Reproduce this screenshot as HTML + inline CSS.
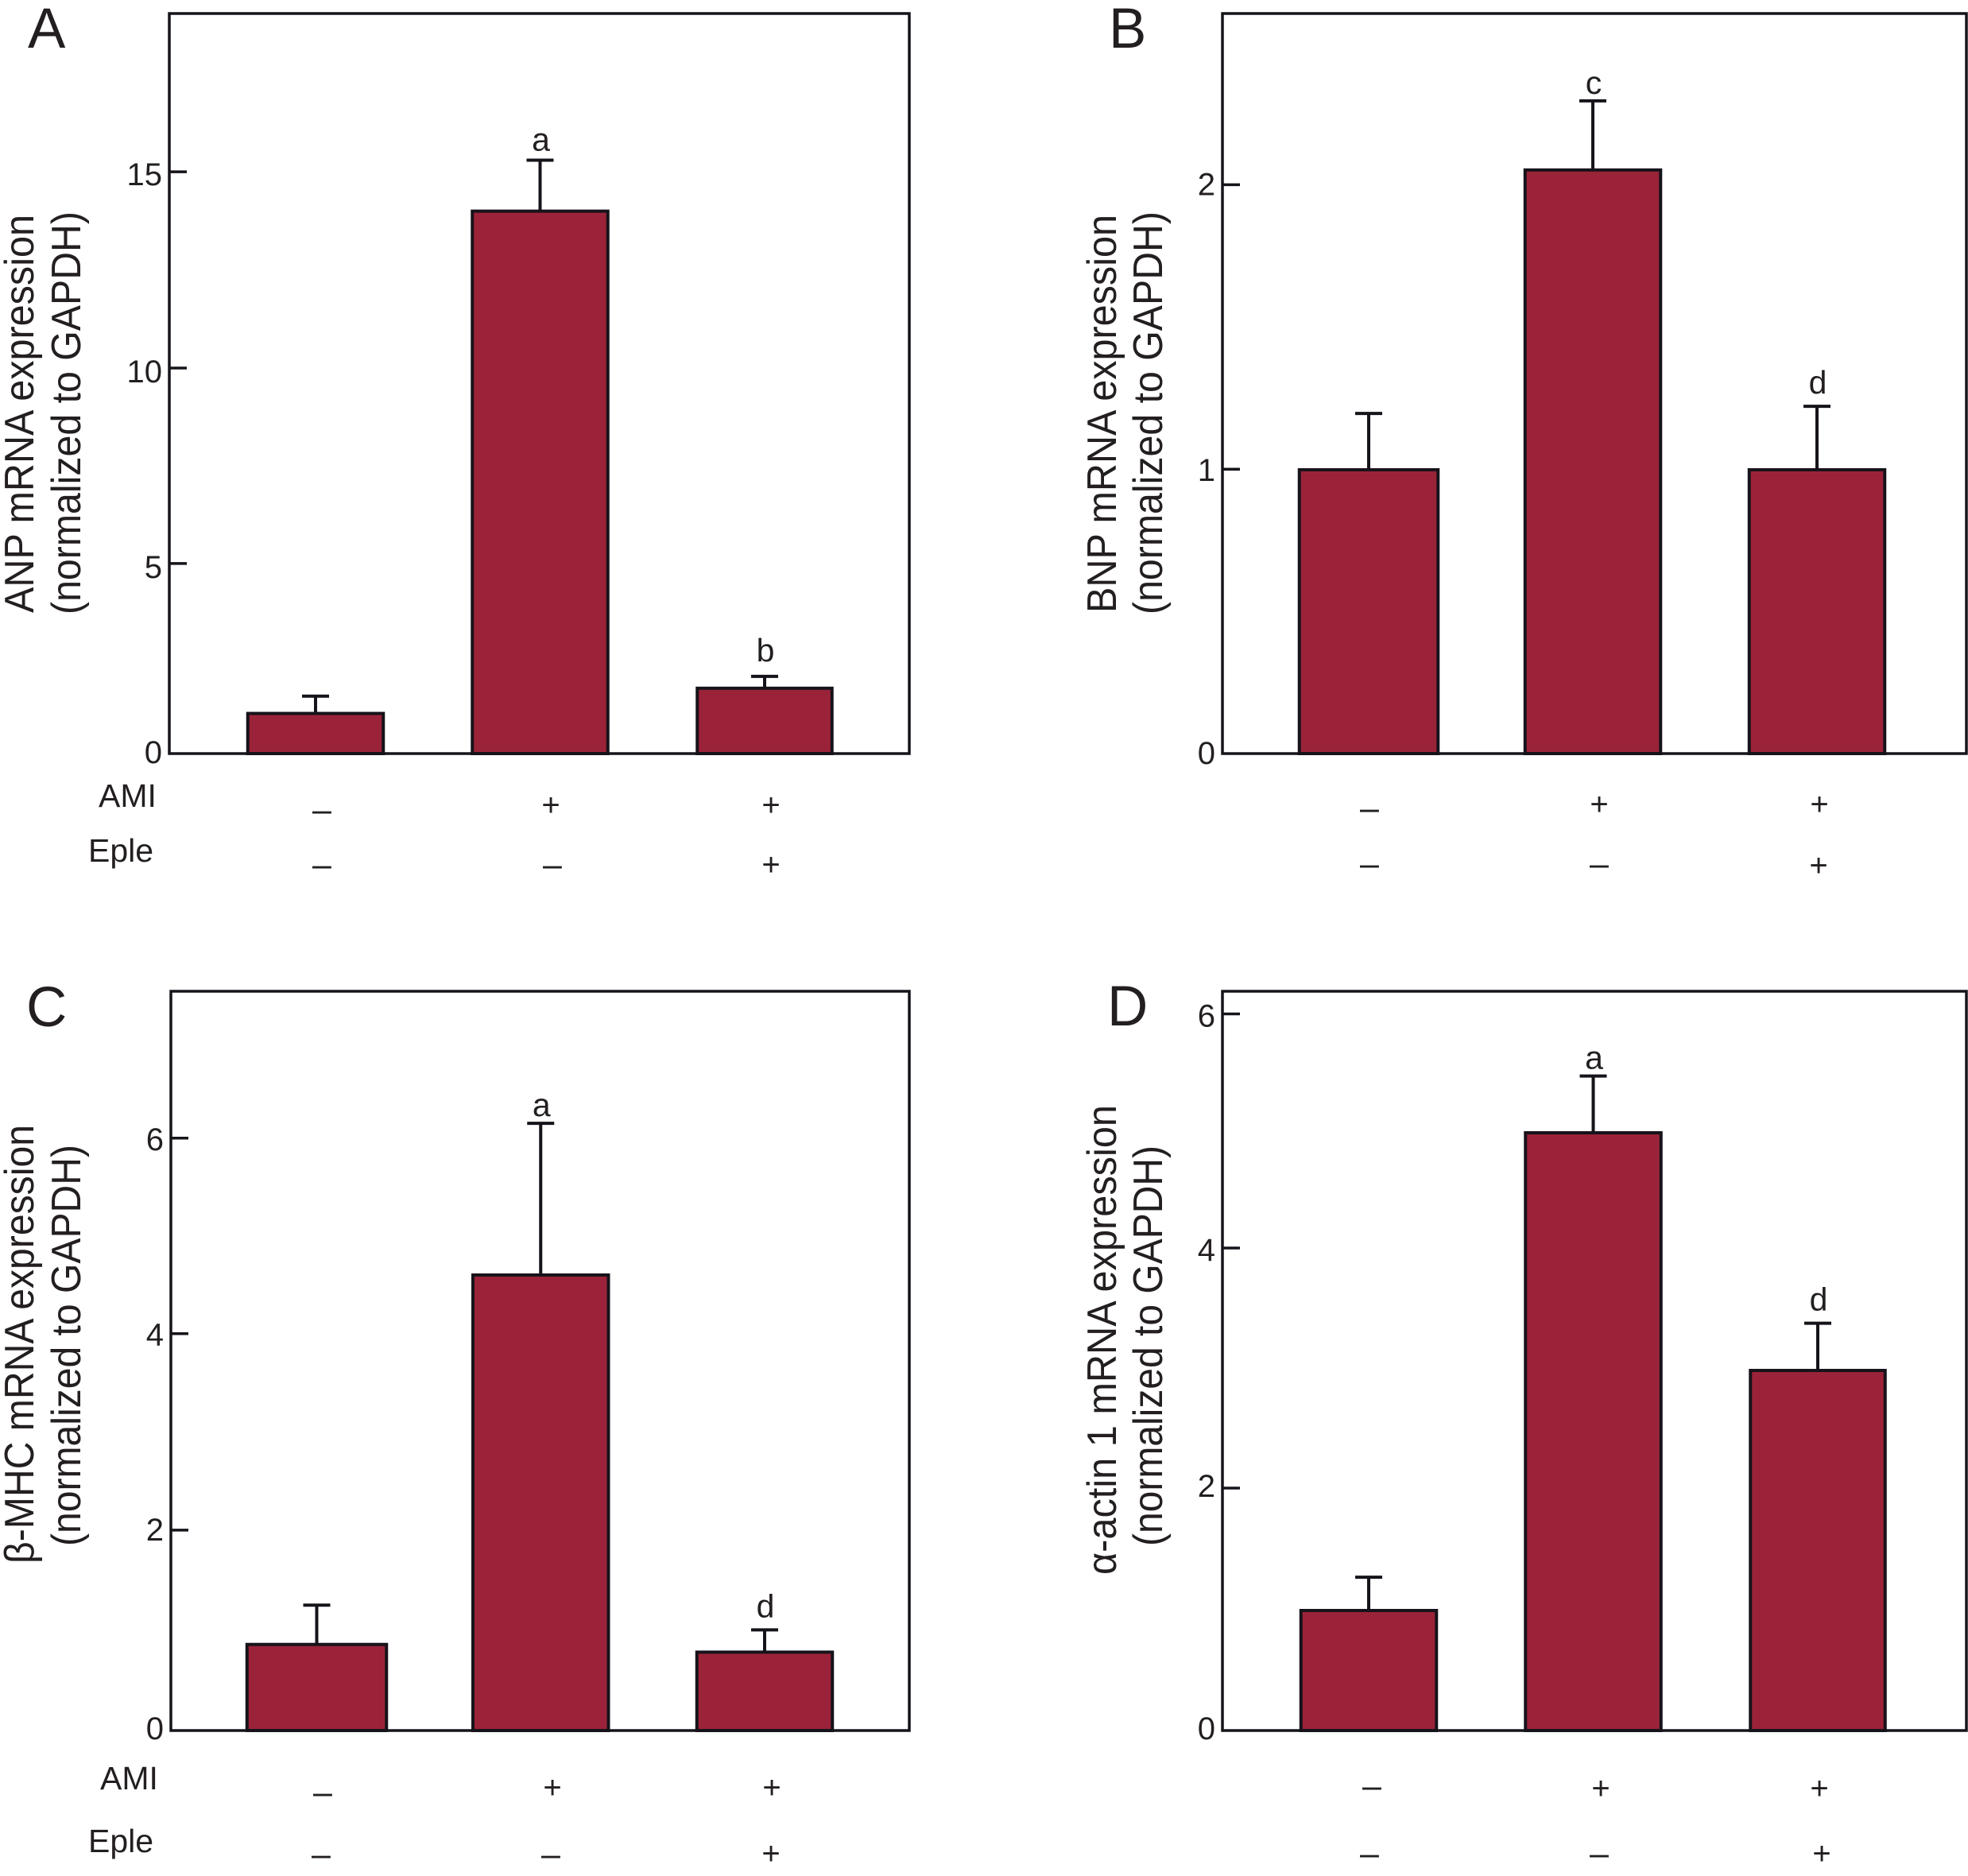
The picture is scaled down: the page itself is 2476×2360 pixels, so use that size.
<!DOCTYPE html>
<html lang="en">
<head>
<meta charset="utf-8">
<title>mRNA expression by treatment</title>
<style>
html,body{margin:0;padding:0;background:#fff;}
svg{display:block;}
text{font-family:"Liberation Sans",sans-serif;fill:#231f20;}
</style>
</head>
<body>
<svg id="chart" xmlns="http://www.w3.org/2000/svg" width="2476" height="2360" viewBox="0 0 2476 2360">
  <rect x="0" y="0" width="2476" height="2360" fill="#fff"/>

  <text x="35" y="60" font-size="71">A</text>
  <text x="1395" y="60" font-size="71">B</text>
  <text x="33" y="1291" font-size="71">C</text>
  <text x="1393" y="1290" font-size="71">D</text>

  <text transform="translate(42 771) rotate(-90)" font-size="52" textLength="501" lengthAdjust="spacingAndGlyphs">ANP mRNA expression</text>
  <text transform="translate(101 773) rotate(-90)" font-size="52" textLength="507" lengthAdjust="spacingAndGlyphs">(normalized to GAPDH)</text>
  <text transform="translate(1404 771) rotate(-90)" font-size="52" textLength="501" lengthAdjust="spacingAndGlyphs">BNP mRNA expression</text>
  <text transform="translate(1462 773) rotate(-90)" font-size="52" textLength="507" lengthAdjust="spacingAndGlyphs">(normalized to GAPDH)</text>
  <text transform="translate(42 1967) rotate(-90)" font-size="52" textLength="552" lengthAdjust="spacingAndGlyphs">β-MHC mRNA expression</text>
  <text transform="translate(101 1945) rotate(-90)" font-size="52" textLength="505" lengthAdjust="spacingAndGlyphs">(normalized to GAPDH)</text>
  <text transform="translate(1404 1981) rotate(-90)" font-size="52" textLength="591" lengthAdjust="spacingAndGlyphs">α-actin 1 mRNA expression</text>
  <text transform="translate(1462 1945) rotate(-90)" font-size="52" textLength="504" lengthAdjust="spacingAndGlyphs">(normalized to GAPDH)</text>

  <text x="124" y="1015" font-size="41">AMI</text>
  <text x="111" y="1084" font-size="41">Eple</text>
  <text x="126" y="2251" font-size="41">AMI</text>
  <text x="111" y="2330" font-size="41">Eple</text>
</svg>

<script>
// Shared categories and treatment rows
const categories = ['Control', 'AMI', 'AMI + Eple'];
const amiRow = ['–', '+', '+'];
const epleRow = ['–', '–', '+'];

// Panel A: ANP
const anpValues = [1.05, 14.0, 1.7];
const anpErrors = [0.43, 1.3, 0.29];
const anpLetters = ['', 'a', 'b'];
const anpTickValues = [0, 4.9, 9.94, 15];
const anpTickLabels = ['0', '5', '10', '15'];

// Panel B: BNP
const bnpValues = [1.0, 2.054, 1.0];
const bnpErrors = [0.196, 0.241, 0.221];
const bnpLetters = ['', 'c', 'd'];
const bnpTickValues = [0, 1, 2];
const bnpTickLabels = ['0', '1', '2'];

// Panel C: beta-MHC
const mhcValues = [0.878, 4.62, 0.8];
const mhcErrors = [0.392, 1.53, 0.22];
const mhcLetters = ['', 'a', 'd'];
const mhcTickValues = [0, 2.03, 4.02, 6];
const mhcTickLabels = ['0', '2', '4', '6'];

// Panel D: alpha-actin 1
const actinValues = [1.01, 5.01, 3.02];
const actinErrors = [0.274, 0.47, 0.39];
const actinLetters = ['', 'a', 'd'];
const actinTickValues = [0, 2.03, 4.04, 6];
const actinTickLabels = ['0', '2', '4', '6'];

const SVG_NS = 'http://www.w3.org/2000/svg';
const svg = document.getElementById('chart');
const FILL = '#9b2339';
const INK = '#17131a';

function mk(tag, attrs, text) {
  const el = document.createElementNS(SVG_NS, tag);
  for (const k in attrs) el.setAttribute(k, attrs[k]);
  if (text !== undefined) el.textContent = text;
  svg.appendChild(el);
  return el;
}

function drawPanel(p) {
  const yScale = v => p.bottom - v * (p.bottom - p.top) / p.yMax;
  const xScale = i => p.x0 + i * p.step;

  const frame = mk('rect', {x: p.left, y: p.top, width: p.right - p.left, height: p.bottom - p.top, fill: 'none', stroke: INK, 'stroke-width': 3.5});
  
  

  p.tickValues.forEach((t, i) => {
    const y = yScale(t);
    if (t !== 0) {
      const tick = mk('line', {x1: p.left, x2: p.left + 22, y1: y, y2: y, stroke: INK, 'stroke-width': 3.5});
      
      
    }
    const label = mk('text', {x: p.left - 9, y: y + p.tickLabelDy[i], 'text-anchor': 'end', 'font-size': 40}, p.tickLabels[i]);
    
    
  });

  p.values.forEach((v, i) => {
    const cx = xScale(i);
    const w = p.barWidths[i] - 1.5;
    const yTop = yScale(v);
    const yErr = yScale(v + p.errors[i]);

    const stem = mk('line', {x1: cx, x2: cx, y1: yTop, y2: yErr, stroke: INK, 'stroke-width': 4});
    
    

    const cap = mk('line', {x1: cx - 17, x2: cx + 17, y1: yErr, y2: yErr, stroke: INK, 'stroke-width': 4});
    
    

    const bar = mk('rect', {x: cx - w / 2, y: yTop + 0.75, width: w, height: yScale(0) - yTop - 0.75, fill: FILL, stroke: INK, 'stroke-width': 4});
    
    

    if (p.letters[i]) {
      const tall = p.letters[i] === 'b' || p.letters[i] === 'd';
      const letter = mk('text', {x: cx + 1, y: yErr - (tall ? 16 : 9) + p.letterDy, 'text-anchor': 'middle', 'font-size': 41}, p.letters[i]);
      
      
    }
  });

  [amiRow, epleRow].forEach((row, r) => {
    row.forEach((sym, i) => {
      const isPlus = sym === '+';
      const y = isPlus ? p.rowPlusY[r] + 14 : p.rowDashY[r] + 11;
      const mark = mk('text', {x: p.rowX[r][i], y: y, 'text-anchor': 'middle', 'font-size': isPlus ? 40 : 43}, sym);
      
      
    });
  });
}

drawPanel({id: 'a', left: 213, right: 1144, top: 17, bottom: 948, yMax: 19.08, x0: 397, step: 282.5,
  barWidths: [172, 172, 171], values: anpValues, errors: anpErrors, letters: anpLetters, letterDy: -3,
  tickValues: anpTickValues, tickLabels: anpTickLabels, tickLabelDy: [12, 18, 18, 17],
  rowX: [[405, 693, 970], [405, 695, 970]], rowDashY: [1022, 1091], rowPlusY: [1012, 1087]});

drawPanel({id: 'b', left: 1538, right: 2474, top: 17, bottom: 948, yMax: 2.602, x0: 1722, step: 282,
  barWidths: [176, 172, 172], values: bnpValues, errors: bnpErrors, letters: bnpLetters, letterDy: 0,
  tickValues: bnpTickValues, tickLabels: bnpTickLabels, tickLabelDy: [13, 15, 13],
  rowX: [[1723, 2012, 2289], [1723, 2012, 2288]], rowDashY: [1020, 1090], rowPlusY: [1011, 1088]});

drawPanel({id: 'c', left: 215, right: 1144, top: 1247, bottom: 2177, yMax: 7.488, x0: 398.5, step: 281.75,
  barWidths: [177, 172, 172], values: mhcValues, errors: mhcErrors, letters: mhcLetters, letterDy: 0,
  tickValues: mhcTickValues, tickLabels: mhcTickLabels, tickLabelDy: [11, 13, 15, 15],
  rowX: [[406, 695, 971], [404, 693, 970]], rowDashY: [2258, 2336], rowPlusY: [2248, 2331]});

drawPanel({id: 'd', left: 1538, right: 2474, top: 1247, bottom: 2177, yMax: 6.19, x0: 1722, step: 282.5,
  barWidths: [172, 172, 171], values: actinValues, errors: actinErrors, letters: actinLetters, letterDy: 0,
  tickValues: actinTickValues, tickLabels: actinTickLabels, tickLabelDy: [11, 11, 16, 16],
  rowX: [[1726, 2014, 2289], [1723, 2012, 2292]], rowDashY: [2250, 2335], rowPlusY: [2249, 2331]});
</script>
</body>
</html>
